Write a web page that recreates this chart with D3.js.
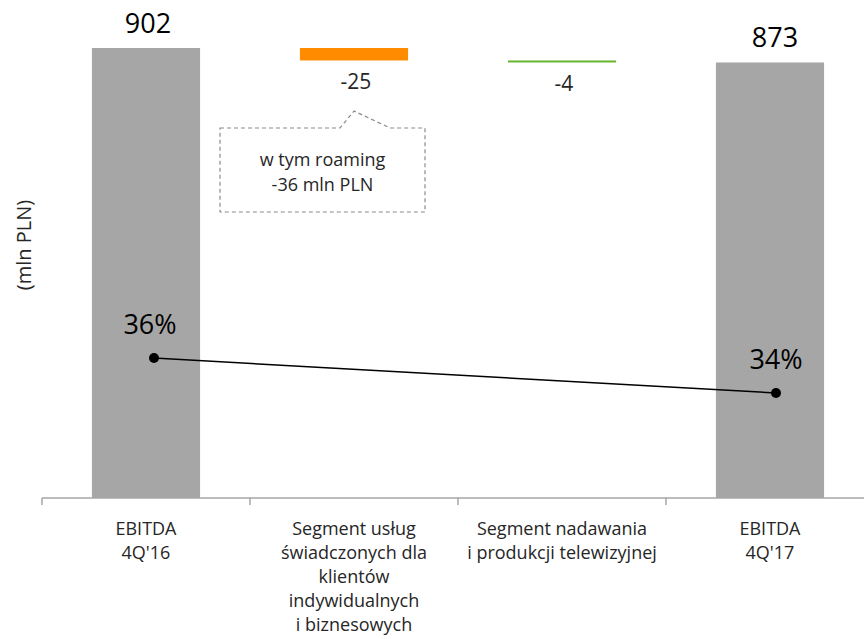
<!DOCTYPE html>
<html>
<head>
<meta charset="utf-8">
<script src="https://cdn.jsdelivr.net/npm/d3@7"></script>
<style>
  body { margin: 0; background: #fff; }
  text { font-family: "Open Sans", Lato, sans-serif; }
</style>
</head>
<body>
<div id="chart"></div>
<script>
// Data
const categories = ["EBITDA\n4Q'16",
    "Segment usług\nświadczonych dla\nklientów\nindywidualnych\ni biznesowych",
    "Segment nadawania\ni produkcji telewizyjnej",
    "EBITDA\n4Q'17"];
const values = [902, -25, -4, 873];
const kinds = ["total", "delta", "delta", "total"];
const barColors = ["#a6a6a6", "#ff8c00", "#66b32e", "#a6a6a6"];
const marginPct = [0.36, null, null, 0.34];
const marginLabels = ["36%", "", "", "34%"];
const noteLines = ["w tym roaming", "-36 mln PLN"];

const fullWidth = 864, fullHeight = 639;

const svg = d3.select("#chart")
    .append("svg")
    .attr("width", fullWidth)
    .attr("height", fullHeight);

// Scales
const x = d3.scaleBand()
    .domain(d3.range(categories.length))
    .range([42, 874])
    .paddingInner(0)
    .paddingOuter(0);

const y = d3.scaleLinear()
    .domain([0, 902])
    .range([498, 48]);

// secondary axis for the margin line
const y2 = d3.scaleLinear()
    .domain([0.28, 0.54])
    .range([498, 43]);

// Build waterfall steps
let running = 0;
const steps = values.map((v, i) => {
    let y0, y1;
    if (kinds[i] === "total") {
        y0 = 0; y1 = v; running = v;
    } else {
        y0 = running; y1 = running + v; running = y1;
    }
    return { i: i, v: v, lo: Math.min(y0, y1), hi: Math.max(y0, y1) };
});

const barW = x.bandwidth() * 0.52;

// Bars
svg.selectAll(".bar")
    .data(steps)
    .join("rect")
    .attr("class", "bar")
    .attr("x", d => x(d.i) + (x.bandwidth() - barW) / 2)
    .attr("y", d => y(d.hi))
    .attr("width", barW)
    .attr("height", d => Math.max(2, y(d.lo) - y(d.hi)))
    .style("fill", d => barColors[d.i]);

// Value labels
svg.selectAll(".val")
    .data(steps)
    .join("text")
    .attr("class", "val")
    .attr("x", d => x(d.i) + x.bandwidth() / 2 + (d.i === 3 ? 5 : 2))
    .attr("y", d => kinds[d.i] === "total" ? y(d.hi) - 15 : y(d.lo) + 29)
    .attr("text-anchor", "middle")
    .style("font-size", d => kinds[d.i] === "total" ? "27px" : "21px")
    .style("fill", d => kinds[d.i] === "total" ? "#000" : "#262626")
    .text(d => d.v);

// X axis
const xAxis = svg.append("g")
    .attr("class", "x-axis")
    .attr("transform", "translate(0,498)");
xAxis.append("line")
    .attr("x1", 42).attr("x2", 874)
    .attr("stroke", "#a6a6a6").attr("stroke-width", 1.5);
xAxis.selectAll(".tick")
    .data(d3.range(categories.length + 1))
    .join("line")
    .attr("x1", d => d < categories.length ? x(d) : x.range()[1])
    .attr("x2", d => d < categories.length ? x(d) : x.range()[1])
    .attr("y1", 0).attr("y2", 7)
    .attr("stroke", "#a6a6a6").attr("stroke-width", 1.5);

// Category labels
svg.selectAll(".cat")
    .data(categories)
    .join("text")
    .attr("class", "cat")
    .attr("text-anchor", "middle")
    .style("font-size", "18px")
    .style("fill", "#262626")
    .each(function(d, i) {
        d3.select(this).selectAll("tspan")
            .data(d.split("\n"))
            .join("tspan")
            .attr("x", x(i) + x.bandwidth() / 2)
            .attr("y", (t, k) => 535 + k * 24)
            .text(t => t);
    });

// Y axis title
svg.append("text")
    .attr("class", "axis-label")
    .attr("text-anchor", "middle")
    .attr("transform", "translate(31,245) rotate(-90)")
    .style("font-size", "20px")
    .style("fill", "#262626")
    .text("(mln PLN)");

// Margin line
const pts = marginPct.map((p, i) => ({ i: i, p: p })).filter(d => d.p !== null);
const line = d3.line()
    .x(d => x(d.i) + x.bandwidth() / 2 + (d.i === 0 ? 8 : 6))
    .y(d => y2(d.p));
svg.append("path")
    .datum(pts)
    .attr("d", line)
    .attr("fill", "none")
    .attr("stroke", "#000")
    .attr("stroke-width", 1.5);
svg.selectAll(".dot")
    .data(pts)
    .join("circle")
    .attr("class", "dot")
    .attr("cx", d => x(d.i) + x.bandwidth() / 2 + (d.i === 0 ? 8 : 6))
    .attr("cy", d => y2(d.p))
    .attr("r", 5)
    .attr("fill", "#000");
svg.selectAll(".pct")
    .data(pts)
    .join("text")
    .attr("class", "pct")
    .attr("x", d => x(d.i) + x.bandwidth() / 2 + (d.i === 0 ? 4 : 6))
    .attr("y", d => y2(d.p) - 24)
    .attr("text-anchor", "middle")
    .style("font-size", "27px")
    .style("fill", "#000")
    .text(d => marginLabels[d.i]);

// Callout box
const cx = x(1) + x.bandwidth() / 2;
const bx0 = cx - 134, bx1 = cx + 71, by0 = 128, by1 = 212;
svg.append("path")
    .attr("d", `M${bx0},${by0} L${cx - 14},${by0} L${cx},${by0 - 17} L${cx + 36},${by0} L${bx1},${by0} L${bx1},${by1} L${bx0},${by1} Z`)
    .attr("fill", "none")
    .attr("stroke", "#8c8c8c")
    .attr("stroke-width", 1.2)
    .attr("stroke-dasharray", "4,3");
svg.append("text")
    .attr("text-anchor", "middle")
    .style("font-size", "18px")
    .style("fill", "#262626")
    .selectAll("tspan")
    .data(noteLines)
    .join("tspan")
    .attr("x", (bx0 + bx1) / 2)
    .attr("y", (d, k) => 166 + k * 25)
    .text(d => d);
</script>
</body>
</html>
